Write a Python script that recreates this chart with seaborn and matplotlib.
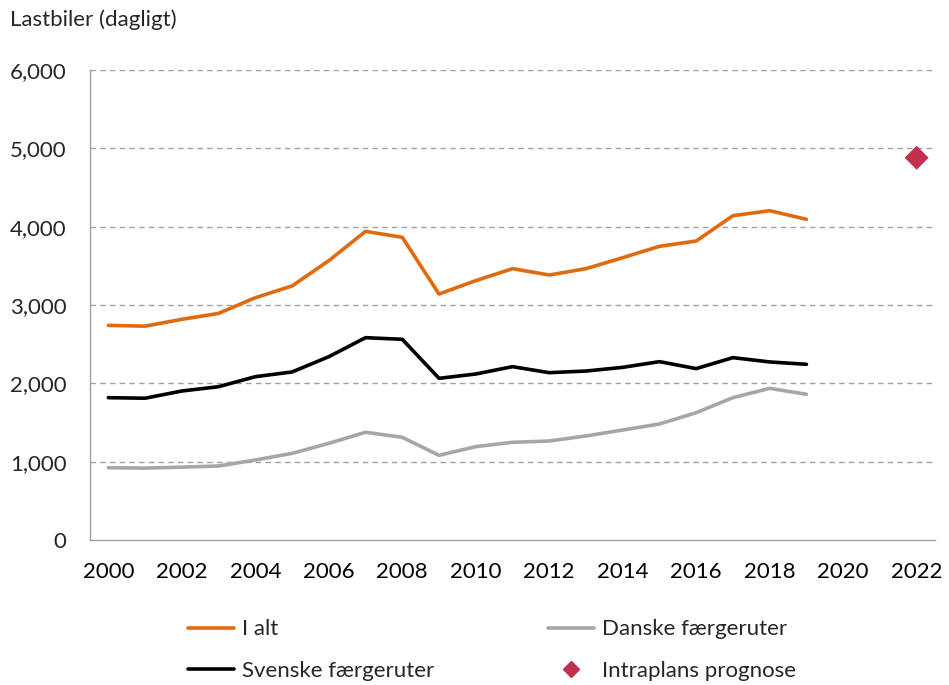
import matplotlib
matplotlib.use("Agg")
import matplotlib.pyplot as plt
from matplotlib.ticker import FuncFormatter, MultipleLocator, FixedLocator
from matplotlib.lines import Line2D
import seaborn as sns
import pandas as pd

years = list(range(2000, 2020))
i_alt = [2740, 2730, 2817, 2893, 3093, 3243, 3566, 3940, 3864, 3140,
         3311, 3464, 3383, 3464, 3604, 3749, 3817, 4140, 4204, 4094]
svenske = [1817, 1810, 1902, 1957, 2085, 2145, 2340, 2583, 2562, 2064,
           2119, 2213, 2136, 2157, 2204, 2277, 2188, 2328, 2273, 2243]
danske = [923, 918, 930, 945, 1021, 1106, 1234, 1375, 1311, 1081,
          1192, 1247, 1264, 1328, 1404, 1481, 1625, 1817, 1936, 1860]
prognose_year = [2022]
prognose_value = [4880]

series_names = ["I alt", "Svenske færgeruter", "Danske færgeruter"]
colors = {"I alt": "#E06A0E", "Svenske færgeruter": "#000000", "Danske færgeruter": "#A6A6A6"}
diamond_color = "#C0304F"

rows = []
for name, vals in zip(series_names, [i_alt, svenske, danske]):
    for y, v in zip(years, vals):
        rows.append({"year": y, "value": v, "series": name})
df = pd.DataFrame(rows)
dfp = pd.DataFrame({"year": prognose_year, "value": prognose_value})

sns.set_style("white")
plt.rcParams["font.family"] = ["Lato", "DejaVu Sans"]

fig = plt.figure(figsize=(9.49, 6.85), dpi=100)
ax = fig.add_axes([90/949, 1-540/685, (935-90)/949, (540-70)/685])

sns.lineplot(data=df, x="year", y="value", hue="series", hue_order=series_names,
             palette=colors, linewidth=2.6, ax=ax, legend=False)
sns.scatterplot(data=dfp, x="year", y="value", marker="D", s=150, color=diamond_color,
                edgecolor="none", ax=ax, legend=False, zorder=5)

ax.set_xlim(1999.5, 2022.5)
ax.set_ylim(0, 6000)
ax.set_xlabel("")
ax.set_ylabel("")

ax.xaxis.set_major_locator(FixedLocator(list(range(2000, 2023, 2))))
ax.xaxis.set_minor_locator(FixedLocator([x + 0.5 for x in range(1999, 2023)]))
ax.tick_params(axis="x", which="major", length=0, labelsize=16, pad=16, colors="black")
ax.tick_params(axis="x", which="minor", length=6, width=1, color="#A0A0A0", direction="out")

ax.yaxis.set_major_locator(MultipleLocator(1000))
ax.yaxis.set_major_formatter(FuncFormatter(lambda v, p: f"{int(v):,}"))
ax.tick_params(axis="y", which="major", length=10, width=1, color="#A0A0A0",
               direction="inout", labelsize=16, pad=12)

for v in range(1000, 6001, 1000):
    ax.axhline(v, color="#A0A0A0", linestyle=(0, (4, 3)), linewidth=1, zorder=0)

for side in ["top", "right"]:
    ax.spines[side].set_visible(False)
for side in ["left", "bottom"]:
    ax.spines[side].set_color("#A0A0A0")
    ax.spines[side].set_linewidth(1)

fig.text(10/949, 1-20/685, "Lastbiler (dagligt)", fontsize=16, ha="left", va="center")

handles = [
    Line2D([], [], color=colors["I alt"], lw=2.6),
    Line2D([], [], color=colors["Svenske færgeruter"], lw=2.6),
    Line2D([], [], color=colors["Danske færgeruter"], lw=2.6),
    Line2D([], [], color=diamond_color, marker="D", markersize=8, lw=0),
]
labels = ["I alt", "Svenske færgeruter", "Danske færgeruter", "Intraplans prognose"]
fig.legend(handles, labels, ncol=2, frameon=False, fontsize=16,
           loc="center", bbox_to_anchor=(492/949, 1-650/685),
           handlelength=2.1, handletextpad=0.35, columnspacing=5.1, labelspacing=0.95)

fig.savefig("out.png", dpi=100)
